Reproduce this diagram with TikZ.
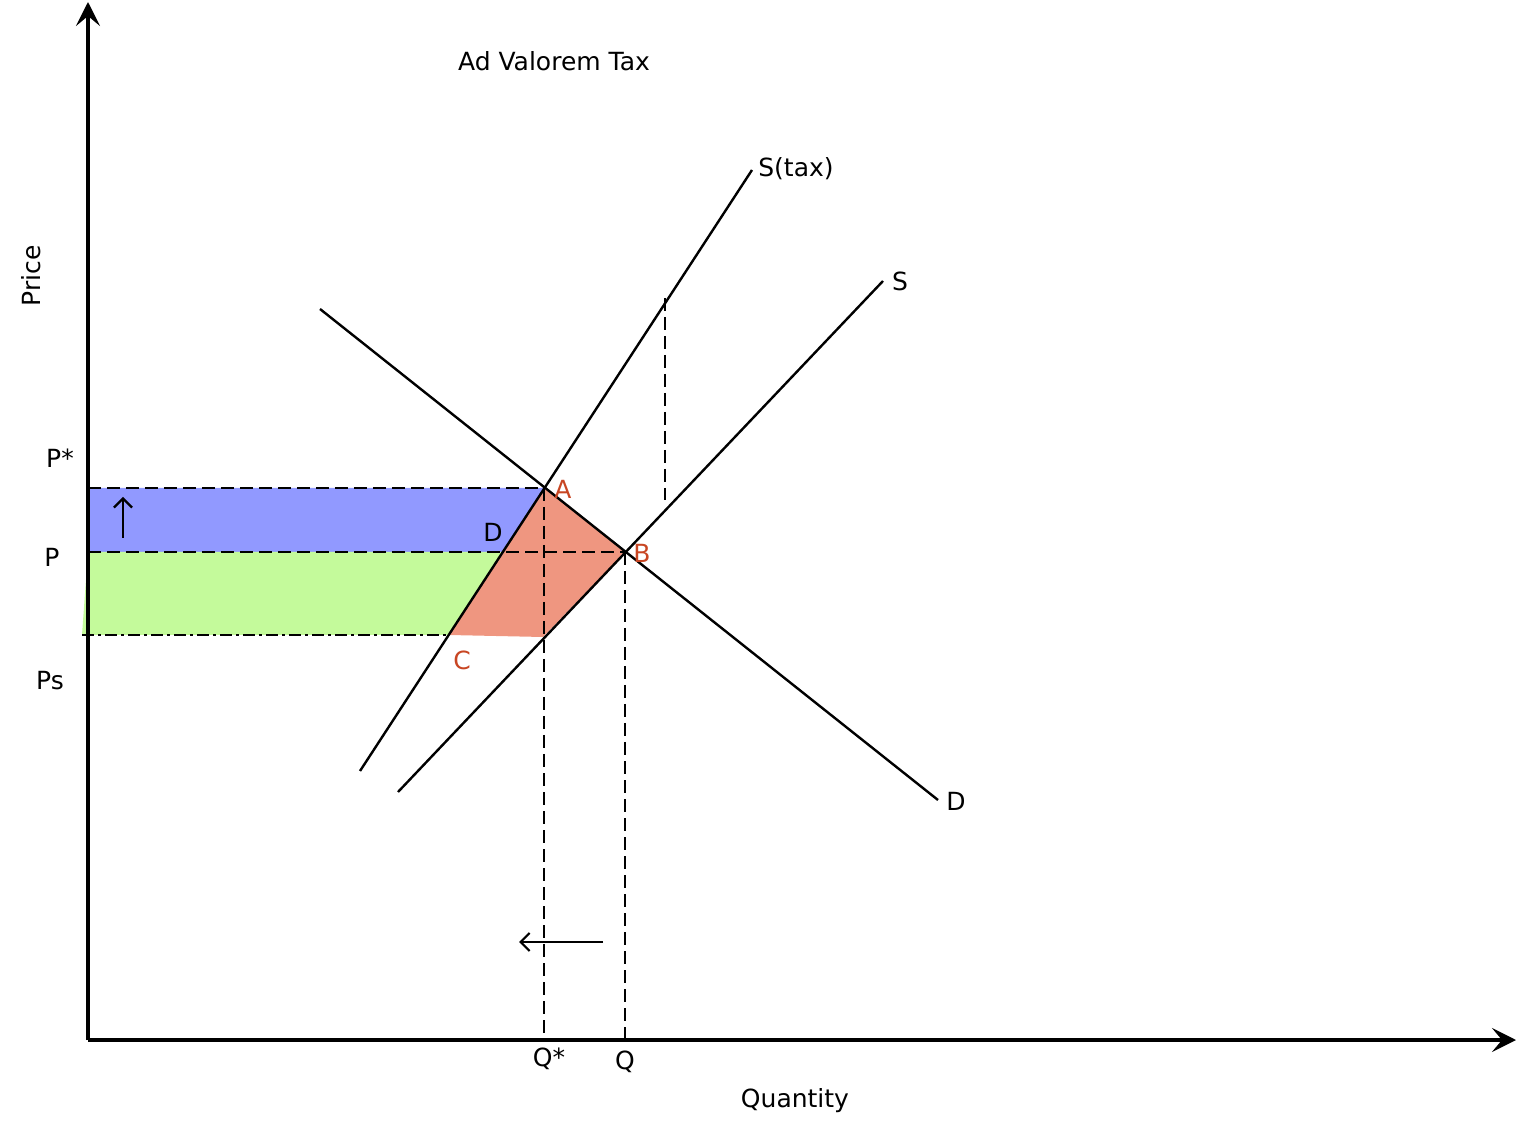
\documentclass[tikz,border=0pt]{standalone}
\usepackage{fontspec}
\setmainfont{DejaVu Sans}
\usetikzlibrary{arrows.meta}
\definecolor{cblue}{RGB}{145,153,255}
\definecolor{cgreen}{RGB}{196,250,155}
\definecolor{cred}{RGB}{239,150,128}
\definecolor{clab}{RGB}{200,70,35}
\begin{document}
\begin{tikzpicture}[x=0.5pt,y=-0.5pt,
  curve/.style={line width=1.2pt,black},
  dashline/.style={line width=1.2pt,dash pattern=on 6.5pt off 3pt},
  dashdotline/.style={line width=1.2pt,dash pattern=on 6pt off 2pt on 1.5pt off 2pt},
  axisline/.style={line width=2.2pt,-{Stealth[length=12pt,width=12pt,inset=5pt]}},
  smallarrow/.style={line width=1.1pt,-{Straight Barb[length=4.5pt,width=9pt]}},
  lab/.style={font=\fontsize{12.5}{14}\selectfont,inner sep=0pt},
  redlab/.style={lab,text=clab}]
\useasboundingbox (0,0) rectangle (1517,1128);
% key points
\coordinate (O) at (88,1040);
\coordinate (Ytop) at (88,2);
\coordinate (Xend) at (1516,1040);
\coordinate (D1) at (320,309);
\coordinate (D2) at (938,800);
\coordinate (T1) at (360,771);
\coordinate (T2) at (752,170);
\coordinate (S1) at (398,792);
\coordinate (S2) at (883,281);
\coordinate (A) at (544,488);
\coordinate (B) at (625,552);
\coordinate (Dp) at (503,552);
\coordinate (C) at (449,635);
\coordinate (E) at (543,637);
\coordinate (PA) at (88,488);
\coordinate (PB) at (88,552);
\coordinate (PC) at (82,635);
\coordinate (QA) at (544,1035);
\coordinate (QB) at (625,1040);
\coordinate (TaxTop) at (665,298);
\coordinate (TaxBot) at (665,500);
\coordinate (UpS) at (123,538);
\coordinate (UpE) at (123,497);
\coordinate (LfS) at (603,942);
\coordinate (LfE) at (519,942);
% fills
\fill[cblue] (PA) -- (A) -- (Dp) -- (PB) -- cycle;
\fill[cgreen] (PB) -- (Dp) -- (C) -- (PC) -- cycle;
\fill[cred] (A) -- (B) -- (E) -- (C) -- cycle;
% dashed guides
\draw[dashline] (PA) -- (A);
\draw[dashline] (PB) -- (B);
\draw[dashdotline] (PC) -- (C);
\draw[dashline] (A) -- (QA);
\draw[dashline] (B) -- (QB);
\draw[dashline] (TaxTop) -- (TaxBot);
% curves
\draw[curve] (D1) -- (D2);
\draw[curve] (T1) -- (T2);
\draw[curve] (S1) -- (S2);
% arrows
\draw[smallarrow] (UpS) -- (UpE);
\draw[smallarrow] (LfS) -- (LfE);
% axes
\draw[axisline] (O) -- (Ytop);
\draw[axisline] (O) -- (Xend);
% labels
\node[lab] (title) at (554,61) {Ad Valorem Tax};
\node[lab] (stax) at (796,169) {S(tax)};
\node[lab] (slab) at (900,281) {S};
\node[lab] (dlab) at (956,801) {D};
\node[lab] (dpl) at (493,532) {D};
\node[redlab] (alab) at (563,489) {A};
\node[redlab] (blab) at (642,553) {B};
\node[redlab] (clab) at (462,660) {C};
\node[lab] (pstar) at (60,458) {P*};
\node[lab] (plab) at (52,557) {P};
\node[lab] (pslab) at (50,681) {Ps};
\node[lab] (qstar) at (549,1059) {Q*};
\node[lab] (qlab) at (625,1062) {Q};
\node[lab] (quant) at (795,1101) {Quantity};
\node[lab,rotate=90] (price) at (31,276) {Price};
\end{tikzpicture}
\end{document}
